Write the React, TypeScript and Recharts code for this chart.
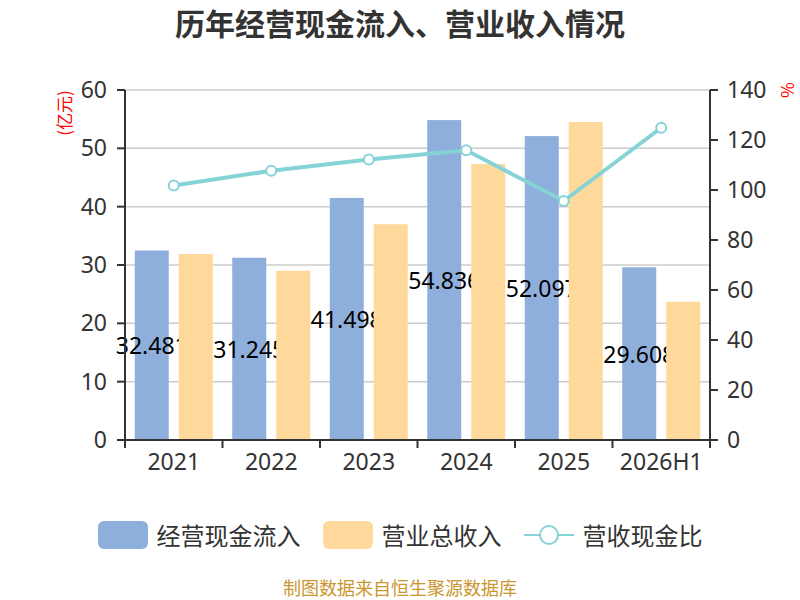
import { ComposedChart, Bar, Line, XAxis, YAxis, CartesianGrid } from 'recharts';

const categories = ['2021', '2022', '2023', '2024', '2025', '2026H1'];
const cashInflow = [32.481, 31.245, 41.498, 54.836, 52.097, 29.608];
const revenue = [31.9, 29.0, 37.0, 47.3, 54.5, 23.7];
const ratio = [101.8, 107.7, 112.2, 115.9, 95.6, 124.9];
const leftTicks = [0, 10, 20, 30, 40, 50, 60];
const rightTicks = [0, 20, 40, 60, 80, 100, 120, 140];

const data = categories.map((name, i) => ({
  name,
  cash: cashInflow[i],
  revenue: revenue[i],
  ratio: ratio[i],
}));

const FONT = '"Noto Sans CJK SC", "Microsoft YaHei", sans-serif';
const NUM_FONT = '"Noto Sans", "Noto Sans CJK SC", sans-serif';
const BLUE = '#8eaedb';
const ORANGE = '#fed99b';
const TEAL = '#86d3d7';
const AXIS = '#333';
const TICK_SIZE = 8;
const TICK_MARGIN = 6;

function CategoryTick(props: any) {
  const { x, y, payload, index, visibleTicksCount } = props;
  const half = payload?.offset ?? 0;
  const axisY = y - TICK_SIZE - TICK_MARGIN;
  const last = index === (visibleTicksCount ?? categories.length) - 1;
  return (
    <g>
      <line x1={x - half} x2={x - half} y1={axisY} y2={axisY + TICK_SIZE} stroke={AXIS} strokeWidth={2} />
      {last && (
        <line x1={x + half} x2={x + half} y1={axisY} y2={axisY + TICK_SIZE} stroke={AXIS} strokeWidth={2} />
      )}
      <text x={x} y={y} dy="0.71em" textAnchor="middle" fill={AXIS} fontSize={23} fontFamily={NUM_FONT}>
        {payload.value}
      </text>
    </g>
  );
}

// blue bar with its value drawn in the bar layer, so the orange bars cover it
function CashBar(props: any) {
  const { x, y, width, height, fill, payload } = props;
  if (width == null || height == null) return null;
  return (
    <g>
      <rect x={x} y={y} width={width} height={height} fill={fill} />
      <text
        x={x + width / 2}
        y={y + height / 2}
        textAnchor="middle"
        dominantBaseline="central"
        fill="#000"
        fontSize={23}
        fontFamily={NUM_FONT}
      >
        {payload.cash}
      </text>
    </g>
  );
}

function LegendItem({ kind, color, label }: { kind: 'bar' | 'line'; color: string; label: string }) {
  return (
    <div style={{ display: 'flex', alignItems: 'center', margin: '0 11px' }}>
      {kind === 'bar' ? (
        <div style={{ width: 50, height: 28, borderRadius: 6, background: color }} />
      ) : (
        <svg width={50} height={28}>
          <line x1={0} x2={50} y1={14} y2={14} stroke={color} strokeWidth={2} />
          <circle cx={25} cy={14} r={9} fill="#fff" stroke={color} strokeWidth={2} />
        </svg>
      )}
      <span style={{ marginLeft: 9, fontSize: 24, color: AXIS, fontFamily: FONT, lineHeight: '28px' }}>{label}</span>
    </div>
  );
}

export default function App() {
  return (
    <div style={{ position: 'absolute', left: 0, top: 0, width: 800, height: 600, background: '#fff' }}>
      <div
        style={{
          position: 'absolute',
          top: 3,
          width: 800,
          textAlign: 'center',
          fontSize: 30,
          fontWeight: 'bold',
          color: AXIS,
          fontFamily: FONT,
          lineHeight: '38px',
        }}
      >
        历年经营现金流入、营业收入情况
      </div>
      <ComposedChart
        width={800}
        height={600}
        data={data}
        margin={{ top: 90, right: 20, bottom: 120, left: 40 }}
        barCategoryGap="10%"
        barGap={10}
      >
        <CartesianGrid yAxisId="left" vertical={false} stroke="#ccc" strokeWidth={1.5} />
        <XAxis
          dataKey="name"
          height={40}
          axisLine={{ stroke: AXIS, strokeWidth: 2 }}
          tickLine={false}
          tickSize={TICK_SIZE}
          tickMargin={TICK_MARGIN}
          tick={<CategoryTick />}
          interval={0}
        />
        <YAxis
          yAxisId="left"
          width={85}
          domain={[0, 60]}
          ticks={leftTicks}
          axisLine={{ stroke: AXIS, strokeWidth: 2 }}
          tickLine={{ stroke: AXIS, strokeWidth: 2 }}
          tickSize={8}
          tickMargin={10}
          tick={{ fill: AXIS, fontSize: 23, fontFamily: NUM_FONT }}
          label={{
            content: ({ viewBox }: any) => (
              <text
                x={viewBox.x + 23}
                y={viewBox.y + 23}
                transform={`rotate(-90 ${viewBox.x + 23} ${viewBox.y + 23})`}
                textAnchor="middle"
                dominantBaseline="central"
                fill="#f00"
                fontSize={17}
                fontFamily={FONT}
              >
                (亿元)
              </text>
            ),
          }}
        />
        <YAxis
          yAxisId="right"
          orientation="right"
          width={70}
          domain={[0, 140]}
          ticks={rightTicks}
          axisLine={{ stroke: AXIS, strokeWidth: 2 }}
          tickLine={{ stroke: AXIS, strokeWidth: 2 }}
          tickSize={8}
          tickMargin={9}
          tick={{ fill: AXIS, fontSize: 23, fontFamily: NUM_FONT }}
          label={{
            content: ({ viewBox }: any) => (
              <text
                x={viewBox.x + 78}
                y={viewBox.y}
                transform={`rotate(90 ${viewBox.x + 78} ${viewBox.y})`}
                textAnchor="middle"
                dominantBaseline="central"
                fill="#f00"
                fontSize={17}
                fontFamily={FONT}
              >
                %
              </text>
            ),
          }}
        />
        <Bar yAxisId="left" dataKey="cash" fill={BLUE} shape={<CashBar />} isAnimationActive={false} />
        <Bar yAxisId="left" dataKey="revenue" fill={ORANGE} isAnimationActive={false} />
        <Line
          yAxisId="right"
          dataKey="ratio"
          stroke={TEAL}
          strokeWidth={4}
          dot={{ r: 5, fill: '#fff', stroke: TEAL, strokeWidth: 2 }}
          isAnimationActive={false}
        />
      </ComposedChart>
      <div
        style={{
          position: 'absolute',
          top: 521,
          width: 800,
          display: 'flex',
          justifyContent: 'center',
        }}
      >
        <LegendItem kind="bar" color={BLUE} label="经营现金流入" />
        <LegendItem kind="bar" color={ORANGE} label="营业总收入" />
        <LegendItem kind="line" color={TEAL} label="营收现金比" />
      </div>
      <div
        style={{
          position: 'absolute',
          top: 576,
          width: 800,
          textAlign: 'center',
          fontSize: 18,
          color: '#c9962f',
          fontFamily: FONT,
          lineHeight: '22px',
        }}
      >
        制图数据来自恒生聚源数据库
      </div>
    </div>
  );
}
